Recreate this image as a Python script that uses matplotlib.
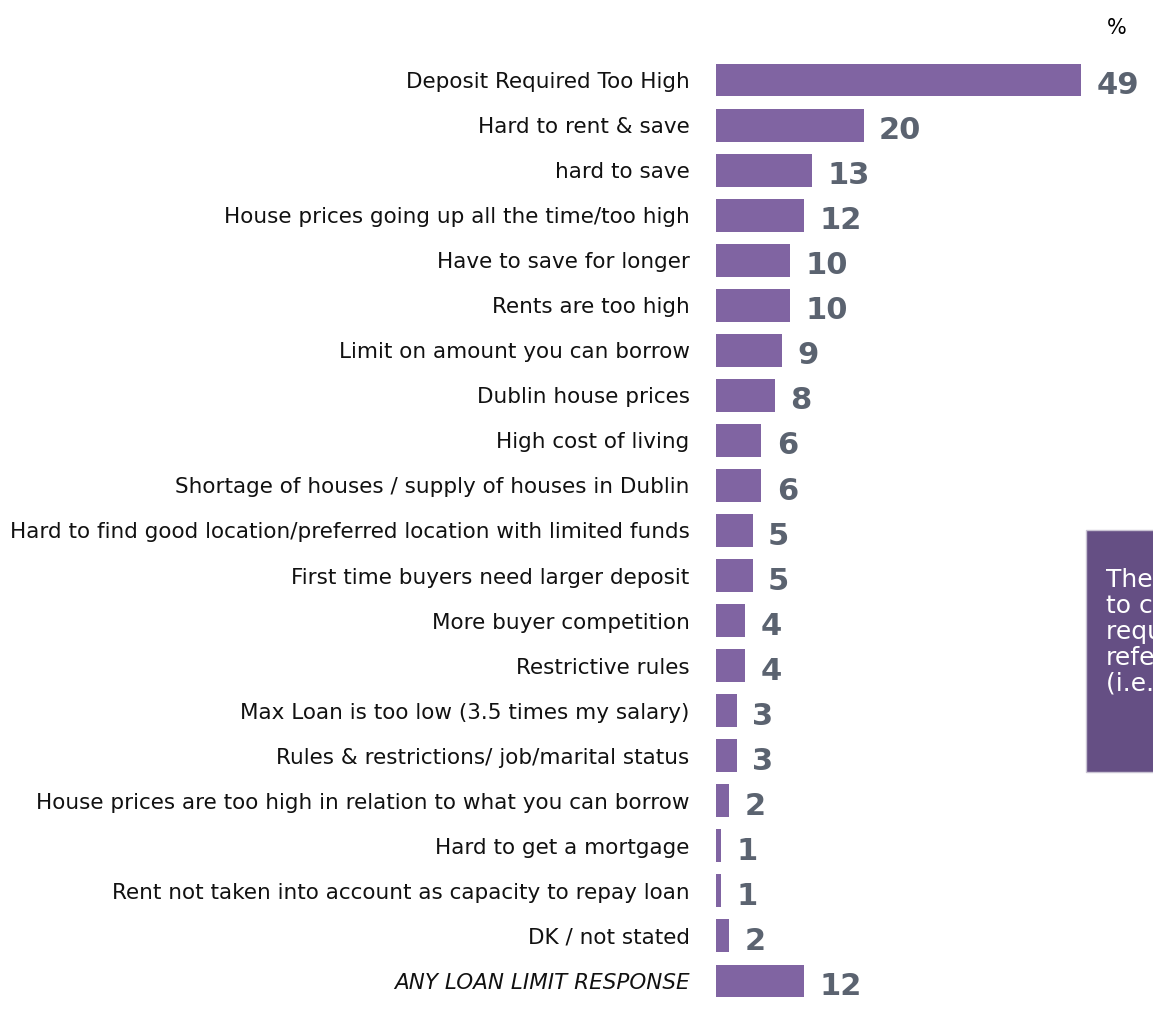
import matplotlib.pyplot as plt
from matplotlib.patches import Rectangle

categories = [
    "Deposit Required Too High",
    "Hard to rent & save",
    "hard to save",
    "House prices going up all the time/too high",
    "Have to save for longer",
    "Rents are too high",
    "Limit on amount you can borrow",
    "Dublin house prices",
    "High cost of living",
    "Shortage of houses / supply of houses in Dublin",
    "Hard to find good location/preferred location with limited funds",
    "First time buyers need larger deposit",
    "More buyer competition",
    "Restrictive rules",
    "Max Loan is too low (3.5 times my salary)",
    "Rules & restrictions/ job/marital status",
    "House prices are too high in relation to what you can borrow",
    "Hard to get a mortgage",
    "Rent not taken into account as capacity to repay loan",
    "DK / not stated",
    "ANY LOAN LIMIT RESPONSE",
]
values = [49, 20, 13, 12, 10, 10, 9, 8, 6, 6, 5, 5, 4, 4, 3, 3, 2, 1, 1, 2, 12]
# bar lengths as drawn in the picture (rounded values are not exact)
bar_lengths = [49, 19.8, 12.9, 11.8, 9.9, 9.9, 8.9, 7.9, 6.1, 6.1, 4.9, 4.9, 3.9, 3.9, 2.8, 2.8, 1.8, 0.7, 0.7, 1.8, 11.8]

bar_color = "#8064A2"
value_color = "#5B6370"

fig = plt.figure(figsize=(11.53, 10.31), dpi=100)
ax = fig.add_axes([716 / 1153, 23 / 1031, 437 / 1153, 955 / 1031])

y = list(range(len(categories)))
ax.barh(y, bar_lengths, height=0.73, color=bar_color)
ax.set_xlim(0, 437 / 7.45)
ax.set_ylim(20.6, -0.6)

for yi, length, v in zip(y, bar_lengths, values):
    ax.annotate(str(v), (length, yi), xytext=(11, -4), textcoords="offset points",
                ha="left", va="center", fontsize=22, fontweight="bold", color=value_color)

ax.set_yticks(y)
ax.set_yticklabels(categories, fontsize=15.5, color="#111111")
ax.get_yticklabels()[-1].set_fontstyle("italic")
ax.tick_params(axis="y", length=0, pad=19)
ax.set_xticks([])
for s in ax.spines.values():
    s.set_visible(False)

fig.text(1117 / 1153, 1 - 28 / 1031, "%", fontsize=15, ha="center", va="center")

# side note box, cut off by the right edge of the picture
box = Rectangle((1086 / 1153, 1 - 772 / 1031), 200 / 1153, 242 / 1031,
                transform=fig.transFigure, facecolor="#654F84", edgecolor="#C9C3D3", linewidth=1)
fig.patches.append(box)
note_lines = ["There is a reluctance", "to comply with", "requirements that", "reference", "(i.e. deposit)"]
for i, line in enumerate(note_lines):
    fig.text(1106 / 1153, 1 - (580 + i * 26) / 1031, line, fontsize=18, color="white",
             ha="left", va="center")

fig.savefig("out.png", dpi=100)
